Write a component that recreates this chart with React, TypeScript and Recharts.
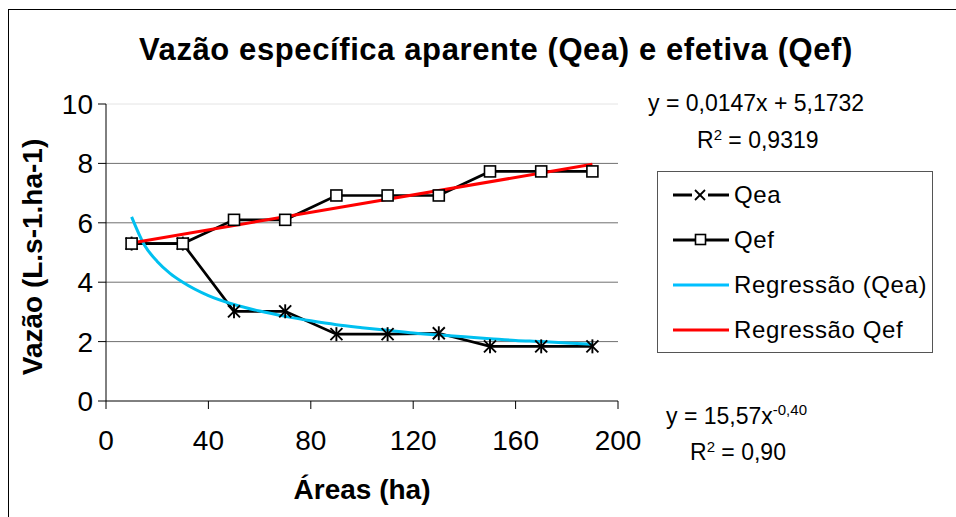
import {
  Label,
  Line,
  LineChart,
  ReferenceLine,
  XAxis,
  YAxis,
} from "recharts";

const areas = [10, 30, 50, 70, 90, 110, 130, 150, 170, 190];
const qea = [5.3, 5.3, 3.02, 3.02, 2.25, 2.25, 2.28, 1.84, 1.84, 1.84];
const qef = [5.3, 5.3, 6.1, 6.1, 6.92, 6.92, 6.92, 7.73, 7.73, 7.73];

// trend lines
const regQeaX = [10, 15, 20, 25, 30, 40, 50, 60, 70, 80, 90, 100, 110, 120, 130, 140, 150, 160, 170, 180, 190];
const regQeaY = [6.2, 5.25, 4.7, 4.3, 4.0, 3.55, 3.25, 3.03, 2.85, 2.7, 2.57, 2.47, 2.38, 2.29, 2.22, 2.16, 2.1, 2.04, 2.0, 1.95, 1.91];
const regQefX = [10, 190];
const regQefY = [5.32, 7.97];

const xTicks = [0, 40, 80, 120, 160, 200];
const yTicks = [0, 2, 4, 6, 8, 10];
const gridValues = [2, 4, 6, 8];

const font = "'Liberation Sans', Arial, sans-serif";

const qeaData = areas.map((x, i) => ({ x, y: qea[i] }));
const qefData = areas.map((x, i) => ({ x, y: qef[i] }));
const regQeaData = regQeaX.map((x, i) => ({ x, y: regQeaY[i] }));
const regQefData = regQefX.map((x, i) => ({ x, y: regQefY[i] }));

function StarDot({ cx, cy }: { cx?: number; cy?: number }) {
  if (cx == null || cy == null) return null;
  return (
    <g stroke="#000" strokeWidth={1.9}>
      <line x1={cx - 6} y1={cy - 6} x2={cx + 6} y2={cy + 6} />
      <line x1={cx - 6} y1={cy + 6} x2={cx + 6} y2={cy - 6} />
      <line x1={cx} y1={cy - 7} x2={cx} y2={cy + 7} />
    </g>
  );
}

function SquareDot({ cx, cy }: { cx?: number; cy?: number }) {
  if (cx == null || cy == null) return null;
  return <rect x={cx - 5.5} y={cy - 5.5} width={11} height={11} fill="#fff" stroke="#000" strokeWidth={1.6} />;
}

function YTitle() {
  return (
    <text
      transform="translate(42,257) rotate(-90)"
      textAnchor="middle"
      fill="#000"
      fontSize={28}
      fontWeight="bold"
      fontFamily={font}
    >
      Vazão (L.s-1.ha-1)
    </text>
  );
}

const legendItems = [
  { name: "Qea", color: "#000", marker: "x" },
  { name: "Qef", color: "#000", marker: "square" },
  { name: "Regressão (Qea)", color: "#00c0ff", marker: "" },
  { name: "Regressão Qef", color: "#ff0000", marker: "" },
];

function LegendBox() {
  return (
    <div
      style={{
        position: "absolute",
        left: 657,
        top: 171,
        width: 276,
        height: 182,
        border: "1px solid #555",
        background: "#fff",
        fontFamily: font,
        fontSize: 24,
        letterSpacing: 0.6,
        color: "#000",
        boxSizing: "border-box",
      }}
    >
      {legendItems.map((it) => (
        <div key={it.name} style={{ display: "flex", alignItems: "center", height: 45, paddingLeft: 14 }}>
          <svg width={58} height={20}>
            <line x1={1} y1={10} x2={57} y2={10} stroke={it.color} strokeWidth={3} />
            {it.marker === "x" && (
              <g>
                <rect x={20} y={3} width={16} height={14} fill="#fff" />
                <g stroke="#000" strokeWidth={1.8}>
                  <line x1={23} y1={5} x2={33} y2={15} />
                  <line x1={23} y1={15} x2={33} y2={5} />
                </g>
              </g>
            )}
            {it.marker === "square" && (
              <rect x={23.5} y={4.5} width={10} height={10} fill="#fff" stroke="#000" strokeWidth={1.6} />
            )}
          </svg>
          <span style={{ marginLeft: 4 }}>{it.name}</span>
        </div>
      ))}
    </div>
  );
}

const eqStyle = {
  position: "absolute" as const,
  fontFamily: font,
  fontSize: 23,
  color: "#000",
  whiteSpace: "nowrap" as const,
  lineHeight: "24px",
};

export default function App() {
  return (
    <div style={{ position: "absolute", left: 0, top: 0, width: 956, height: 517, background: "#fff", overflow: "hidden" }}>
      <div style={{ position: "absolute", left: 8, top: 9, width: 960, height: 1, background: "#000" }} />
      <div style={{ position: "absolute", left: 8, top: 9, width: 1, height: 520, background: "#000" }} />
      <div
        style={{
          position: "absolute",
          left: 0,
          width: 992,
          top: 34,
          textAlign: "center",
          fontFamily: font,
          fontWeight: "bold",
          fontSize: 31,
          letterSpacing: 0.6,
          lineHeight: "32px",
        }}
      >
        Vazão específica aparente (Qea) e efetiva (Qef)
      </div>
      <LineChart
        width={956}
        height={517}
        margin={{ top: 104, right: 338, left: 46, bottom: 18 }}
        style={{ position: "absolute", left: 0, top: 0, fontFamily: font }}
      >
        <XAxis
          dataKey="x"
          type="number"
          domain={[0, 200]}
          ticks={xTicks}
          allowDuplicatedCategory={false}
          stroke="#000"
          tickSize={8}
          tickMargin={21}
          height={98}
          tick={{ fill: "#000", fontSize: 28 }}
        >
          <Label value="Áreas (ha)" position="insideBottom" offset={0} fill="#000" fontSize={28} fontWeight="bold" />
        </XAxis>
        <YAxis
          dataKey="y"
          type="number"
          domain={[0, 10]}
          ticks={yTicks}
          stroke="#000"
          tickSize={8}
          tickMargin={5}
          width={60}
          tick={{ fill: "#000", fontSize: 28 }}
        >
          <Label content={<YTitle />} />
        </YAxis>
        <ReferenceLine y={10} stroke="#e4e4e4" />
        {gridValues.map((v) => (
          <ReferenceLine key={v} y={v} stroke="#707070" />
        ))}
        <Line
          data={qeaData}
          dataKey="y"
          name="Qea"
          stroke="#000"
          strokeWidth={2.7}
          dot={<StarDot />}
          activeDot={false}
          isAnimationActive={false}
        />
        <Line
          data={qefData}
          dataKey="y"
          name="Qef"
          stroke="#000"
          strokeWidth={2.7}
          dot={<SquareDot />}
          activeDot={false}
          isAnimationActive={false}
        />
        <Line
          data={regQeaData}
          dataKey="y"
          name="Regressão (Qea)"
          type="monotone"
          stroke="#00c0f0"
          strokeWidth={3}
          dot={false}
          activeDot={false}
          isAnimationActive={false}
        />
        <Line
          data={regQefData}
          dataKey="y"
          name="Regressão Qef"
          stroke="#ff0000"
          strokeWidth={3}
          dot={false}
          activeDot={false}
          isAnimationActive={false}
        />
      </LineChart>
      <LegendBox />
      <div style={{ ...eqStyle, left: 648, top: 91 }}>y = 0,0147x + 5,1732</div>
      <div style={{ ...eqStyle, left: 697, top: 128 }}>
        R<sup style={{ fontSize: 15, verticalAlign: "8px", lineHeight: 0 }}>2</sup> = 0,9319
      </div>
      <div style={{ ...eqStyle, left: 666, top: 404 }}>
        y = 15,57x<sup style={{ fontSize: 15, verticalAlign: "9px", lineHeight: 0 }}>-0,40</sup>
      </div>
      <div style={{ ...eqStyle, left: 690, top: 440 }}>
        R<sup style={{ fontSize: 15, verticalAlign: "8px", lineHeight: 0 }}>2</sup> = 0,90
      </div>
    </div>
  );
}
